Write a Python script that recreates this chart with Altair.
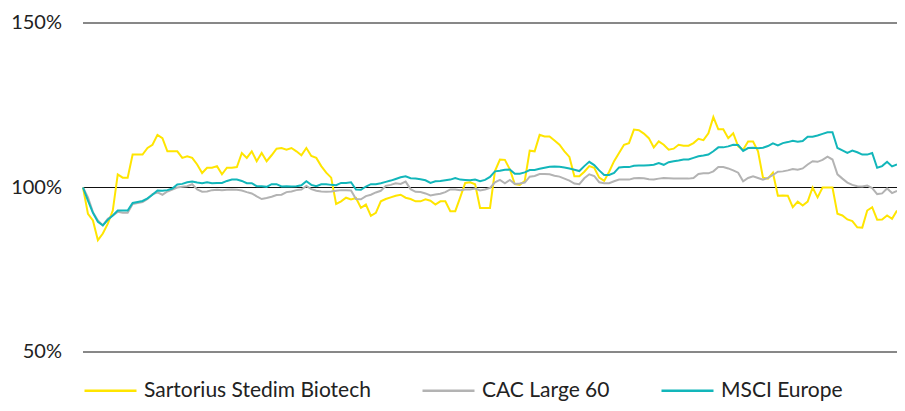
import altair as alt
import pandas as pd

series_names = ["Sartorius Stedim Biotech", "CAC Large 60", "MSCI Europe"]
series_colors = ["#FFE500", "#B3B3B3", "#12B6BA"]

sartorius = [
    100, 92, 90, 84, 86, 89, 93, 104, 103, 103, 110, 110, 110, 112, 113, 116, 115, 111, 111, 111,
    109, 109.5, 109, 107, 104.4, 106, 106, 106.5, 104, 106, 106, 106.2, 110.5, 109, 111, 108, 110.5, 108, 109.8, 111.8,
    112, 111.5, 112, 111, 109.8, 112, 109.6, 109, 106.5, 104.5, 103, 95, 95.8, 96.9, 96.4, 96.8, 93.8, 94.8, 91.4, 92.3,
    95.8, 96.5, 97, 97.5, 97.8, 96.9, 96.5, 95.8, 95.8, 96.4, 96, 94.8, 95.8, 95.8, 92.8, 92.8, 97, 101.4, 101.6, 101,
    93.8, 93.8, 93.8, 105, 108.5, 108.4, 105.5, 101, 100.8, 102, 111.2, 111, 116, 115.5, 115.5, 114.3, 113, 111, 109.3, 103.4,
    103.4, 104.8, 106.5, 106, 103, 102, 104.8, 108, 110.5, 113, 113.5, 117.6, 117.4, 116.4, 115, 112.2, 114, 113, 111.5, 111.8,
    113, 112.7, 112.7, 113.5, 114.8, 114.4, 116.5, 121.4, 117.7, 117.7, 115, 116.5, 112.5, 111.5, 114, 114, 111, 103, 102.7, 104.5,
    97.5, 97.6, 97.5, 94, 95.7, 94.5, 95.7, 100, 97, 100, 100, 100, 92, 91.5, 90.3, 89.8, 87.9, 87.8, 93, 94,
    90.2, 90.3, 91.5, 90.5, 93,
]

cac = [
    100, 97, 92.5, 90, 88.5, 90.5, 91.5, 92.6, 92.3, 92.3, 95, 95.3, 95.6, 96.5, 98, 98.5, 97.8, 98.8, 99.4, 100,
    100.2, 100.4, 101, 99.4, 98.7, 98.8, 99.2, 99.3, 99.2, 99.3, 99.4, 99.3, 99.1, 98.6, 98.2, 97.3, 96.5, 96.8, 97.2, 97.7,
    97.8, 98.6, 98.8, 99.2, 99.4, 100.5, 99.5, 99, 98.8, 98.7, 98.8, 99, 99.2, 99.2, 99.1, 96.5, 96.4, 97.4, 97.8, 98.5,
    99, 100.5, 100.8, 101.3, 101.1, 101.8, 99.5, 98.7, 98.6, 98.2, 97.6, 97.9, 98.1, 98.6, 99.4, 99.4, 99.2, 99.4, 99.4, 99.7,
    99.1, 99.4, 99.9, 101.6, 102.3, 101.3, 102.3, 101.1, 101.2, 101.5, 103.3, 103.5, 104.1, 104.1, 104, 103.6, 103.3, 102.7, 102.1, 101.2,
    101, 102.8, 104, 103.5, 101.6, 101.3, 101.3, 101.9, 102.4, 102.4, 102.4, 102.8, 102.9, 102.8, 102.5, 102.4, 102.7, 102.9, 102.8, 102.7,
    102.7, 102.7, 102.7, 102.9, 104.1, 104.3, 104.3, 104.9, 106.2, 106.2, 105.8, 105.2, 104.5, 101.9, 102.9, 103.4, 102.9, 102.4, 102.9, 103.8,
    104.8, 104.9, 105.2, 105.6, 105.4, 105.8, 107, 108, 107.8, 108.4, 109.4, 108.5, 104, 102.7, 101.5, 100.8, 100.4, 100.3, 100.6, 99.8,
    98, 98.2, 99.7, 98.3, 99,
]

msci = [
    100, 96, 92.3, 89.6, 88.5, 90.2, 91.5, 93, 93, 93, 95.3, 95.6, 95.9, 96.7, 97.8, 99.1, 99, 99.2, 99.7, 100.9,
    101.1, 101.6, 101.8, 101.5, 101.3, 101.6, 101.3, 101.4, 101.4, 102, 102.4, 102.4, 102, 101.3, 101.3, 100.4, 100.4, 100.2, 101, 101,
    100.3, 100.4, 100.3, 100.4, 100.7, 101.9, 100.8, 100.4, 101, 101, 100.8, 100.7, 101.4, 101.4, 101.6, 99.4, 99.3, 100.3, 101, 101,
    101.3, 101.7, 102.1, 102.6, 103.1, 103.4, 102.8, 102.7, 102.5, 102.2, 101.4, 101.9, 102, 102.2, 102.4, 102.9, 102.4, 102.3, 102.2, 102.4,
    101.9, 102.3, 103.2, 104.9, 105.1, 105.4, 105.5, 104.2, 104.2, 104.6, 105.3, 105.3, 105.7, 106, 106.3, 106.4, 106.3, 106.1, 105.8, 105.4,
    105, 106.5, 107.8, 106.8, 105.2, 103.8, 103.8, 104.4, 106.1, 106.2, 106.2, 106.6, 106.7, 106.7, 106.8, 106.9, 107.4, 106.9, 107.7, 108,
    108.2, 108.5, 108.5, 109, 109.5, 109.7, 110, 111, 112.2, 112.2, 112.5, 113, 112.9, 111.1, 112, 112.1, 111.9, 112.1, 112.6, 113.4,
    112.8, 113.5, 113.8, 114.2, 113.9, 114.1, 115.4, 115.4, 115.8, 116.3, 116.8, 116.8, 112, 111.3, 110.5, 111.2, 110.7, 110, 110, 110.5,
    106, 106.5, 107.8, 106.4, 107,
]

y_ticks = [50, 100, 150]

rows = []
for name, vals in zip(series_names, [sartorius, cac, msci]):
    for i, v in enumerate(vals):
        rows.append({"t": i, "value": v, "series": name})
df = pd.DataFrame(rows)
tick_df = pd.DataFrame({"value": y_ticks})
n_max = max(len(sartorius), len(cac), len(msci)) - 1

color = alt.Color(
    "series:N",
    scale=alt.Scale(domain=series_names, range=series_colors),
    legend=alt.Legend(
        title=None,
        orient="none",
        direction="horizontal",
        legendX=0,
        legendY=340,
        symbolType="stroke",
        symbolSize=2704,
        symbolStrokeWidth=2.5,
        labelFontSize=21,
        labelFont="Lato",
        labelColor="#222222",
        labelOffset=6,
        labelLimit=400,
        columnPadding=46,
    ),
)

x = alt.X("t:Q", scale=alt.Scale(domain=[0, n_max], nice=False, zero=False), axis=None)
y_scale = alt.Scale(domain=[50, 150], nice=False, zero=False)
y = alt.Y("value:Q", scale=y_scale, axis=None)

gridlines = (
    alt.Chart(tick_df)
    .mark_rule(color="#111111", strokeWidth=1)
    .encode(y=y)
)

tick_labels = (
    alt.Chart(tick_df)
    .transform_calculate(label="datum.value + '%'")
    .mark_text(align="right", baseline="middle", fontSize=20, font="Lato", color="#222222")
    .encode(y=y, x=alt.value(-21), text="label:N")
)

layers = [gridlines, tick_labels]
for name in series_names:
    layers.append(
        alt.Chart(df)
        .transform_filter(alt.datum.series == name)
        .mark_line(strokeWidth=2, interpolate="linear")
        .encode(x=x, y=y, color=color)
    )

chart = (
    alt.layer(*layers)
    .properties(
        width=814,
        height=329,
        autosize=alt.AutoSizeParams(type="none"),
        padding={"left": 75, "top": 15, "right": 0, "bottom": 51},
        view=alt.ViewBackground(stroke="#ffffff", strokeWidth=0, strokeOpacity=0),
    )
    .configure_view(stroke="#ffffff", strokeWidth=0, strokeOpacity=0)
    .configure(font="Lato")
)

chart.save("out.html", embed_options={"renderer": "svg", "actions": False})
